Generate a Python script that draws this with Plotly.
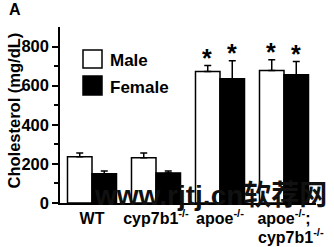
import plotly.graph_objects as go

categories = ["WT", "cyp7b1", "apoe", "apoe_cyp7b1"]
tick_labels = ["WT", "cyp7b1<sup>-/-</sup>", "apoe<sup>-/-</sup>", "apoe<sup>-/-</sup>;"]
tick_label_line2 = ["", "", "", "cyp7b1<sup>-/-</sup>"]
male = [236, 231, 672, 677]
male_err = [20, 25, 31, 56]
female = [149, 154, 636, 656]
female_err = [15, 10, 92, 67]
star_male = [False, False, True, True]
star_female = [False, False, True, True]

FONT = "Liberation Sans, Arial, sans-serif"

fig = go.Figure()
fig.add_trace(go.Bar(
    x=categories, y=male, name="Male",
    marker=dict(color="white", line=dict(color="black", width=1.5)),
    error_y=dict(type="data", array=male_err, arrayminus=[0]*4, symmetric=False,
                 color="black", thickness=1.5, width=3.5),
))
fig.add_trace(go.Bar(
    x=categories, y=female, name="Female",
    marker=dict(color="black", line=dict(color="black", width=1.5)),
    error_y=dict(type="data", array=female_err, arrayminus=[0]*4, symmetric=False,
                 color="black", thickness=1.5, width=3.5),
))

annotations = []
for c, v, e, s in zip(categories, male, male_err, star_male):
    if s:
        annotations.append(dict(x=c, y=v + e, xref="x", yref="y", text="<b>*</b>",
                                showarrow=False, xshift=-13, yshift=-8, yanchor="bottom",
                                font=dict(family=FONT, size=25, color="black")))
for c, v, e, s in zip(categories, female, female_err, star_female):
    if s:
        annotations.append(dict(x=c, y=v + e, xref="x", yref="y", text="<b>*</b>",
                                showarrow=False, xshift=12, yshift=-8, yanchor="bottom",
                                font=dict(family=FONT, size=25, color="black")))

# second line of tick labels
for c, t in zip(categories, tick_label_line2):
    if t:
        annotations.append(dict(x=c, y=(203 - 236) / 176, xref="x", yref="paper", text=f"<b>{t}</b>",
                                showarrow=False, xanchor="center", yanchor="middle", xshift=7,
                                font=dict(family=FONT, size=16, color="black")))

# y title
annotations.append(dict(x=-0.18, y=0.525, xref="paper", yref="paper", text="<b>Cholesterol (mg/dL)</b>",
                        textangle=-90, showarrow=False, xanchor="center", yanchor="middle",
                        font=dict(family=FONT, size=16.5, color="black")))
# panel letter
annotations.append(dict(x=-0.176, y=1.097, xref="paper", yref="paper", text="<b>A</b>",
                        showarrow=False, xanchor="center", yanchor="middle",
                        font=dict(family=FONT, size=16, color="black")))
# legend text
annotations.append(dict(x=0.1875, y=0.8125, xref="paper", yref="paper", text="<b>Male</b>",
                        showarrow=False, xanchor="left", yanchor="middle",
                        font=dict(family=FONT, size=17, color="black")))
annotations.append(dict(x=0.1875, y=0.659, xref="paper", yref="paper", text="<b>Female</b>",
                        showarrow=False, xanchor="left", yanchor="middle",
                        font=dict(family=FONT, size=17, color="black")))
# watermark
annotations.append(dict(x=(92 - 60) / 256, y=(203 - 195) / 176, xref="paper", yref="paper",
                        text="<b>www.rjtj.cn软荐网</b>", showarrow=False,
                        xanchor="left", yanchor="middle",
                        font=dict(family="Liberation Sans, Noto Sans CJK SC, sans-serif", size=28, color="#111111")))

shapes = [
    dict(type="rect", xref="paper", yref="paper", x0=(83 - 60) / 256, x1=(102 - 60) / 256,
         y0=(203 - 68) / 176, y1=(203 - 50) / 176, fillcolor="white", line=dict(color="black", width=1.5)),
    dict(type="rect", xref="paper", yref="paper", x0=(83 - 60) / 256, x1=(102 - 60) / 256,
         y0=(203 - 95) / 176, y1=(203 - 76) / 176, fillcolor="black", line=dict(color="black", width=1.5)),
]

fig.update_layout(
    width=334, height=247,
    margin=dict(l=60, r=18, t=27, b=44),
    paper_bgcolor="white", plot_bgcolor="white",
    barmode="group", bargap=0.234, bargroupgap=0,
    showlegend=False,
    annotations=annotations, shapes=shapes,
    font=dict(family=FONT, color="black"),
)
fig.update_xaxes(
    type="category", tickvals=categories, ticktext=[f"<b>{t}</b>" for t in tick_labels],
    tickangle=0, showline=True, linecolor="black", linewidth=1.5, ticks="",
    ticklabelstandoff=0, automargin=False,
    tickfont=dict(family=FONT, size=16, color="black"), showgrid=False, zeroline=False,
    range=[-0.5, 3.5],
)
fig.update_yaxes(
    range=[0, 900], tickvals=[0, 200, 400, 600, 800],
    ticktext=["<b>0</b>", "<b>200</b>", "<b>400</b>", "<b>600</b>", "<b>800</b>"],
    showline=True, linecolor="black", linewidth=1.5, ticks="outside", ticklen=6, tickwidth=1.5,
    tickcolor="black", minor=dict(tickvals=[100, 300, 500, 700], ticks="outside", ticklen=4,
                                  tickwidth=1.5, tickcolor="black"),
    automargin=False,
    tickfont=dict(family=FONT, size=16.5, color="black"), showgrid=False, zeroline=False,
)

fig.write_html("out.html")
